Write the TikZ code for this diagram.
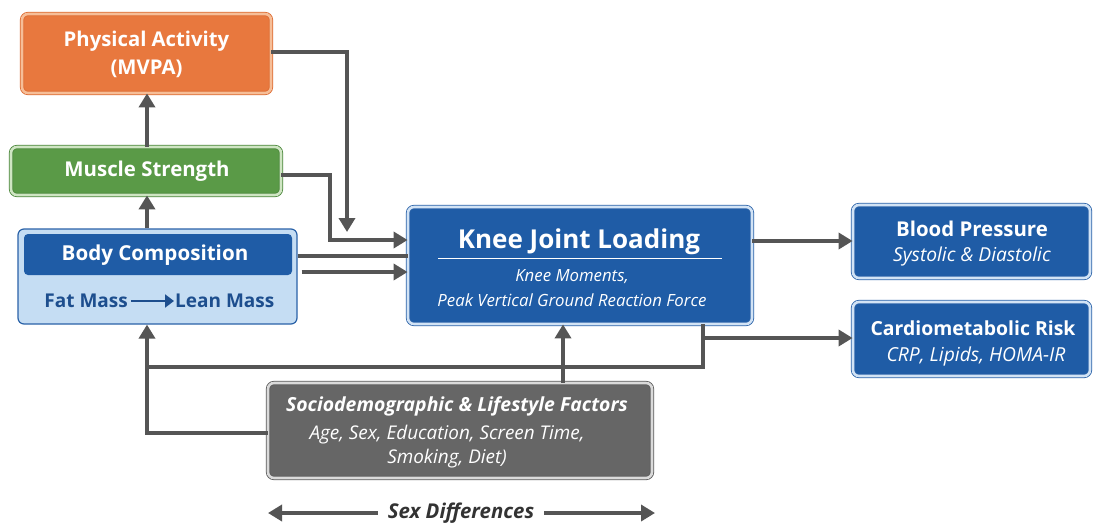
\documentclass[tikz,border=0pt]{standalone}
\usepackage{fontspec}
\setmainfont{Open Sans}
\usetikzlibrary{arrows.meta}
\definecolor{arrowgray}{HTML}{555555}
\definecolor{orgfill}{HTML}{E8783E}
\definecolor{orgline}{HTML}{DD6A30}
\definecolor{orglight}{HTML}{F6BE98}
\definecolor{grnfill}{HTML}{5A9A47}
\definecolor{grnline}{HTML}{4A863A}
\definecolor{grnlight}{HTML}{CFE5C3}
\definecolor{bluefill}{HTML}{1F5CA6}
\definecolor{blueline}{HTML}{2A62A8}
\definecolor{bluelight}{HTML}{D2E3F5}
\definecolor{paleblue}{HTML}{C5DDF3}
\definecolor{darkbluetext}{HTML}{1D4E8E}
\definecolor{grayfill}{HTML}{666666}
\definecolor{grayline}{HTML}{5A5A5A}
\definecolor{graylight}{HTML}{DADADA}
\tikzset{
  dbox/.style n args={3}{draw=#1, line width=0.8pt, double=#2, double distance=2.6pt,
     fill=#3, rounded corners=6pt, inner sep=0pt},
  txt/.style={text=white, inner sep=0pt, align=center},
  arr/.style={draw=arrowgray, line width=3.5pt, -{Triangle[length=14pt,width=16pt]}},
  ln/.style={draw=arrowgray, line width=3.5pt},
}
\begin{document}
\begin{tikzpicture}[x=1pt,y=-1pt]
\useasboundingbox[fill=white] (0,0) rectangle (1094,525);
% boxes
\node[dbox={orgline}{orglight}{orgfill}, minimum width=249pt, minimum height=79pt] (pa) at (146.5,53.5) {};
\node[dbox={grnline}{grnlight}{grnfill}, minimum width=270pt, minimum height=48pt] (ms) at (146,171) {};
\node[draw=blueline, line width=1.2pt, fill=paleblue, rounded corners=6pt, minimum width=279pt, minimum height=95pt, inner sep=0pt] (bc) at (157.5,276.5) {};
\node[fill=bluefill, rounded corners=4pt, minimum width=268pt, minimum height=41pt, inner sep=0pt] (bchead) at (158,254.5) {};
\node[dbox={blueline}{bluelight}{bluefill}, minimum width=344pt, minimum height=117pt] (knee) at (580,265.5) {};
\node[dbox={blueline}{bluelight}{bluefill}, minimum width=237pt, minimum height=73pt] (bp) at (971.5,241.5) {};
\node[dbox={blueline}{bluelight}{bluefill}, minimum width=237pt, minimum height=74pt] (cr) at (971.5,339) {};
\node[dbox={grayline}{graylight}{grayfill}, minimum width=384pt, minimum height=95pt] (socio) at (460,430.5) {};
% texts
\node[txt, font=\fontsize{20.3}{28}\selectfont\bfseries] (patxt) at (146.5,54) {Physical Activity\\(MVPA)};
\node[txt, font=\fontsize{20.4}{22}\selectfont\bfseries] (mstxt) at (147,171) {Muscle Strength};
\node[txt, font=\fontsize{20.6}{22}\selectfont\bfseries] (bctxt) at (155,255) {Body Composition};
\node[txt, text=darkbluetext, font=\fontsize{19}{22}\selectfont\bfseries, anchor=east] (fat) at (128,301) {Fat Mass};
\node[txt, text=darkbluetext, font=\fontsize{19}{22}\selectfont\bfseries, anchor=west] (lean) at (175,301) {Lean Mass};
\draw[draw=darkbluetext, line width=2.6pt, -{Triangle[length=9pt,width=13pt]}] (fat.east) ++(3,0) -- ([xshift=-1pt]lean.west);
\node[txt, font=\fontsize{26}{30}\selectfont\bfseries] (kneetitle) at (579,242) {Knee Joint Loading};
\draw[white, line width=0.8pt] (438,258) coordinate (rl) -- (722,258) coordinate (rr);
\node[txt, font=\fontsize{16.8}{24.5}\selectfont\itshape] (kneesub) at (572,288) {Knee Moments,\\Peak Vertical Ground Reaction Force};
\node[txt, font=\fontsize{20.4}{22}\selectfont\bfseries] (bptitle) at (972,229) {Blood Pressure};
\node[txt, font=\fontsize{19.2}{20}\selectfont\itshape] (bpsub) at (972,257) {Systolic \& Diastolic};
\node[txt, font=\fontsize{19.4}{22}\selectfont\bfseries] (crtitle) at (973,328) {Cardiometabolic Risk};
\node[txt, font=\fontsize{19.3}{20}\selectfont\itshape] (crsub) at (976,356) {CRP, Lipids, HOMA-IR};
\node[txt, font=\fontsize{19.4}{22}\selectfont\bfseries\itshape] (sotitle) at (457,406) {Sociodemographic \& Lifestyle Factors};
\node[txt, font=\fontsize{18.9}{23.5}\selectfont\itshape] (sosub) at (447,446.5) {Age, Sex, Education, Screen Time,\\Smoking, Diet)};
\node[txt, text=black!80, font=\fontsize{20.4}{22}\selectfont\bfseries\itshape] (sex) at (461,513) {Sex Differences};
% connectors
\draw[arr] (ms.north -| 147,0) -- (pa.south -| 147,0);
\draw[arr] (bc.north -| 147,0) -- (ms.south -| 147,0);
\coordinate (padown) at (347,232);
\draw[arr] (pa.east |- 0,52) -| (padown);
\draw[arr] (ms.east |- 0,175) -| (330,240) -- (knee.west |- 0,240);
\draw[ln] (bc.east |- 0,256) -- (knee.west |- 0,256);
\draw[arr] ([xshift=4pt]bc.east |- 0,272) -- (knee.west |- 0,272);
\draw[arr] (knee.east |- 0,241) -- (bp.west |- 0,241);
\draw[ln] (knee.south -| 703,0) -- (703,367) -- (147,367);
\draw[arr] (703,338) -- (cr.west |- 0,338);
\draw[arr] (socio.west |- 0,433) -| (bc.south -| 147,0);
\draw[arr] (socio.north -| 563,0) -- (knee.south -| 563,0);
\draw[arr] (sex.west) ++(-10,0) coordinate (sl) -- (268,513);
\draw[arr] (sex.east) ++(10,0) coordinate (sr) -- (655,513);
\end{tikzpicture}
\end{document}
